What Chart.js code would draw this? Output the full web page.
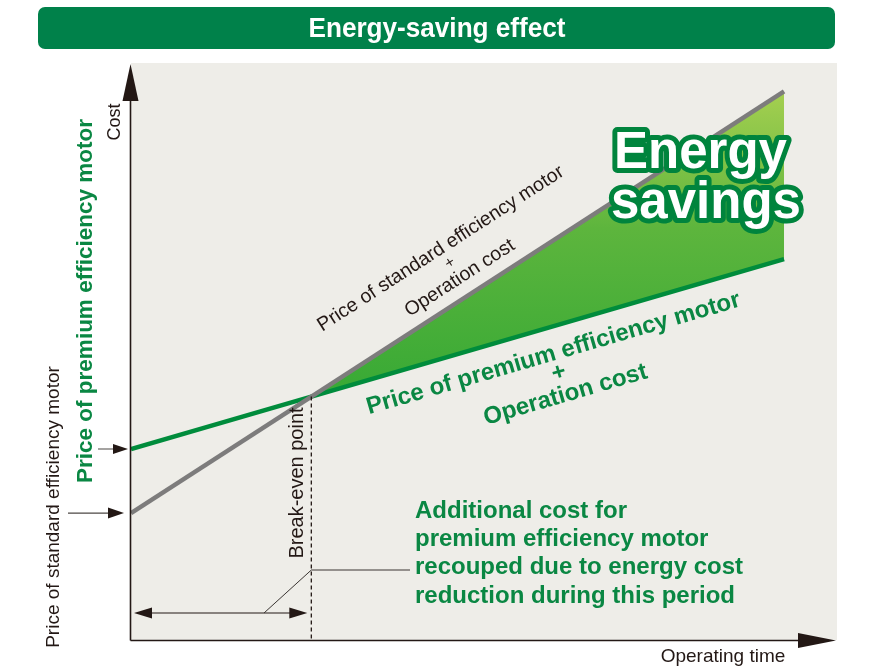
<!DOCTYPE html>
<html>
<head>
<meta charset="utf-8">
<title>Energy-saving effect</title>
<script src="https://cdn.jsdelivr.net/npm/chart.js@4.4.1/dist/chart.umd.min.js"></script>
<style>
    html, body { margin: 0; padding: 0; background: #fff; }
    #wrap { width: 873px; height: 668px; position: relative; }
</style>
</head>
<body>
<div id="wrap"><canvas id="chart" width="873" height="668"></canvas></div>
<script>
// 运转时间 (任意单位, 0 = 购入时)
const operatingTime = [0, 92.5];
// 标准效率电机: 价格 + 运行成本
const standardCost = [22.0, 95.1];
// 高效电机: 价格 + 运行成本
const premiumCost = [33.1, 66.0];
// 坐标轴范围
const axisMax = [100, 100];

// 盈亏平衡点 (两条直线交点)
const slopeStd = (standardCost[1] - standardCost[0]) / (operatingTime[1] - operatingTime[0]);
const slopePrem = (premiumCost[1] - premiumCost[0]) / (operatingTime[1] - operatingTime[0]);
const breakEvenTime = operatingTime[0] + (premiumCost[0] - standardCost[0]) / (slopeStd - slopePrem);
const breakEvenCost = standardCost[0] + slopeStd * (breakEvenTime - operatingTime[0]);

const INK = '#231815';
const GREEN = '#008c3c';
const GREEN_TEXT = '#0a8743';
const FONT = "'Liberation Sans', Arial, Helvetica, sans-serif";

function arrowHead(ctx, tipX, tipY, dir, len, half) {
    ctx.save();
    ctx.translate(tipX, tipY);
    ctx.rotate(dir);
    ctx.beginPath();
    ctx.moveTo(0, 0);
    ctx.lineTo(-len, -half);
    ctx.lineTo(-len, half);
    ctx.closePath();
    ctx.fill();
    ctx.restore();
}

function label(ctx, text, x, y, o) {
    ctx.save();
    ctx.translate(x, y);
    ctx.rotate((o.angle || 0));
    ctx.font = o.font;
    ctx.fillStyle = o.color || INK;
    ctx.textAlign = o.align || 'center';
    ctx.textBaseline = o.baseline || 'middle';
    if (o.width) {
        const w = ctx.measureText(text).width;
        ctx.scale(o.width / w, 1);
    }
    ctx.fillText(text, 0, o.dy || 0);
    ctx.restore();
}

// 背景: 标题栏 + 灰色绘图区
const backdrop = {
    id: 'backdrop',
    beforeDatasetsDraw(chart) {
        const ctx = chart.ctx;
        const a = chart.chartArea;
        ctx.save();
        ctx.fillStyle = '#00814a';
        ctx.beginPath();
        ctx.roundRect(38, 7, 797, 42, 7);
        ctx.fill();
        label(ctx, 'Energy-saving effect', 437, 29, {
            font: "bold 28px 'Liberation Sans Narrow', " + FONT, color: '#fff', width: 257
        });
        ctx.fillStyle = '#eeede8';
        ctx.fillRect(a.left, a.top, a.right - a.left, a.bottom - a.top);
        ctx.restore();
    }
};

// 坐标轴、箭头和说明文字
const annotations = {
    id: 'annotations',
    afterDatasetsDraw(chart) {
        const ctx = chart.ctx;
        const a = chart.chartArea;
        const xs = chart.scales.x;
        const ys = chart.scales.y;
        const ax = a.left - 0.5;
        const ay = a.bottom + 0.5;
        const beX = xs.getPixelForValue(breakEvenTime);
        const beY = ys.getPixelForValue(breakEvenCost);

        ctx.save();
        ctx.strokeStyle = INK;
        ctx.fillStyle = INK;

        // 坐标轴
        ctx.lineWidth = 1.6;
        ctx.beginPath();
        ctx.moveTo(ax, ay);
        ctx.lineTo(ax, 96);
        ctx.moveTo(ax, ay);
        ctx.lineTo(800, ay);
        ctx.stroke();
        arrowHead(ctx, ax, 64, -Math.PI / 2, 37, 8);
        arrowHead(ctx, 836, ay, 0, 38, 7.5);

        // 盈亏平衡点虚线
        ctx.lineWidth = 1.3;
        ctx.setLineDash([4, 3]);
        ctx.beginPath();
        ctx.moveTo(beX, beY);
        ctx.lineTo(beX, ay);
        ctx.stroke();
        ctx.setLineDash([]);

        // 回收期双向箭头 + 引线
        ctx.lineWidth = 1.2;
        ctx.beginPath();
        ctx.moveTo(140, 613);
        ctx.lineTo(beX - 10, 613);
        ctx.stroke();
        arrowHead(ctx, 134, 613, Math.PI, 18, 5.5);
        arrowHead(ctx, beX - 4, 613, 0, 18, 5.5);
        ctx.lineWidth = 1;
        ctx.strokeStyle = '#3a3532';
        ctx.beginPath();
        ctx.moveTo(264, 613);
        ctx.lineTo(beX, 570);
        ctx.lineTo(410, 570);
        ctx.stroke();

        // 左侧价格指示箭头
        const pY = ys.getPixelForValue(premiumCost[0]);
        const sY = ys.getPixelForValue(standardCost[0]);
        ctx.strokeStyle = '#4d4845';
        ctx.lineWidth = 1.2;
        ctx.beginPath();
        ctx.moveTo(98, pY);
        ctx.lineTo(116, pY);
        ctx.moveTo(68, sY);
        ctx.lineTo(112, sY);
        ctx.stroke();
        arrowHead(ctx, 128, pY, 0, 15, 5);
        arrowHead(ctx, 124, sY, 0, 16, 5.5);

        // 坐标轴文字
        const up = -Math.PI / 2;
        label(ctx, 'Cost', 115, 122, { font: '18px ' + FONT, angle: up });
        label(ctx, 'Operating time', 723, 657, { font: '19px ' + FONT });
        label(ctx, 'Price of premium efficiency motor', 86, 301, {
            font: 'bold 22.5px ' + FONT, color: GREEN_TEXT, angle: up
        });
        label(ctx, 'Price of standard efficiency motor', 54, 507, { font: '19px ' + FONT, angle: up });
        label(ctx, 'Break-even point', 297, 483, { font: '20px ' + FONT, angle: up });

        // 标准电机线标注
        const angStd = Math.atan2(ys.getPixelForValue(standardCost[1]) - ys.getPixelForValue(standardCost[0]),
            xs.getPixelForValue(operatingTime[1]) - xs.getPixelForValue(operatingTime[0]));
        label(ctx, 'Price of standard efficiency motor', 450, 263, { font: '19.5px ' + FONT, angle: angStd, dy: -17 });
        label(ctx, '+', 450, 263, { font: '16px ' + FONT, angle: angStd });
        label(ctx, 'Operation cost', 450, 263, { font: '19.5px ' + FONT, angle: angStd, dy: 18 });

        // 高效电机线标注
        const angPrem = Math.atan2(ys.getPixelForValue(premiumCost[1]) - ys.getPixelForValue(premiumCost[0]),
            xs.getPixelForValue(operatingTime[1]) - xs.getPixelForValue(operatingTime[0]));
        const bold24 = 'bold 24px ' + FONT;
        label(ctx, 'Price of premium efficiency motor', 559, 373, { font: bold24, color: GREEN_TEXT, angle: angPrem, dy: -20 });
        label(ctx, '+', 559, 373, { font: bold24, color: GREEN_TEXT, angle: angPrem });
        label(ctx, 'Operation cost', 559, 373, { font: bold24, color: GREEN_TEXT, angle: angPrem, dy: 23 });

        // 回收期说明
        const notes = ['Additional cost for', 'premium efficiency motor',
            'recouped due to energy cost', 'reduction during this period'];
        notes.forEach((t, i) => {
            label(ctx, t, 415, 511 + i * 28.3, { font: bold24, color: GREEN_TEXT, align: 'left' });
        });

        // Energy savings
        ctx.font = 'bold 51px ' + FONT;
        ctx.textAlign = 'left';
        ctx.textBaseline = 'alphabetic';
        ctx.lineJoin = 'round';
        ctx.lineWidth = 10;
        ctx.strokeStyle = '#00843d';
        ctx.fillStyle = '#fff';
        const big = [['Energy', 614, 168], ['savings', 611, 218]];
        big.forEach(([t, x, y]) => ctx.strokeText(t, x, y));
        big.forEach(([t, x, y]) => ctx.fillText(t, x, y));
        ctx.restore();
    }
};

function toPoints(xsArr, ysArr) {
    return xsArr.map((x, i) => ({ x: x, y: ysArr[i] }));
}

const savingsTop = [standardCost[0] + slopeStd * (breakEvenTime - operatingTime[0]), standardCost[1]];
const savingsBottom = [premiumCost[0] + slopePrem * (breakEvenTime - operatingTime[0]), premiumCost[1]];
const savingsTime = [breakEvenTime, operatingTime[1]];

new Chart(document.getElementById('chart'), {
    type: 'line',
    data: {
        datasets: [{
            label: 'Energy savings',
            data: toPoints(savingsTime, savingsTop),
            borderWidth: 0,
            borderColor: 'transparent',
            pointRadius: 0,
            fill: 1,
            order: 3,
            backgroundColor: function (context) {
                const chart = context.chart;
                const ys = chart.scales.y;
                if (!chart.chartArea || !ys) return '#56b33c';
                const g = chart.ctx.createLinearGradient(0, ys.getPixelForValue(standardCost[1]), 0, ys.getPixelForValue(breakEvenCost));
                g.addColorStop(0, '#a5cf50');
                g.addColorStop(0.45, '#5db53d');
                g.addColorStop(1, '#37a935');
                return g;
            }
        }, {
            label: 'savings base',
            data: toPoints(savingsTime, savingsBottom),
            borderWidth: 0,
            borderColor: 'transparent',
            pointRadius: 0,
            fill: false,
            order: 3
        }, {
            label: 'Price of standard efficiency motor + Operation cost',
            data: toPoints(operatingTime, standardCost),
            borderColor: '#7d7c7c',
            borderWidth: 4.5,
            borderCapStyle: 'butt',
            pointRadius: 0,
            fill: false,
            order: 1
        }, {
            label: 'Price of premium efficiency motor + Operation cost',
            data: toPoints(operatingTime, premiumCost),
            borderColor: GREEN,
            borderWidth: 4.5,
            borderCapStyle: 'butt',
            pointRadius: 0,
            fill: false,
            order: 2
        }]
    },
    options: {
        responsive: false,
        animation: false,
        events: [],
        layout: { padding: { left: 131, right: 36, top: 63, bottom: 28 } },
        plugins: {
            legend: { display: false },
            title: { display: false },
            tooltip: { enabled: false }
        },
        scales: {
            x: { type: 'linear', min: 0, max: axisMax[0], display: false },
            y: { type: 'linear', min: 0, max: axisMax[1], display: false }
        }
    },
    plugins: [backdrop, annotations]
});
</script>
</body>
</html>
